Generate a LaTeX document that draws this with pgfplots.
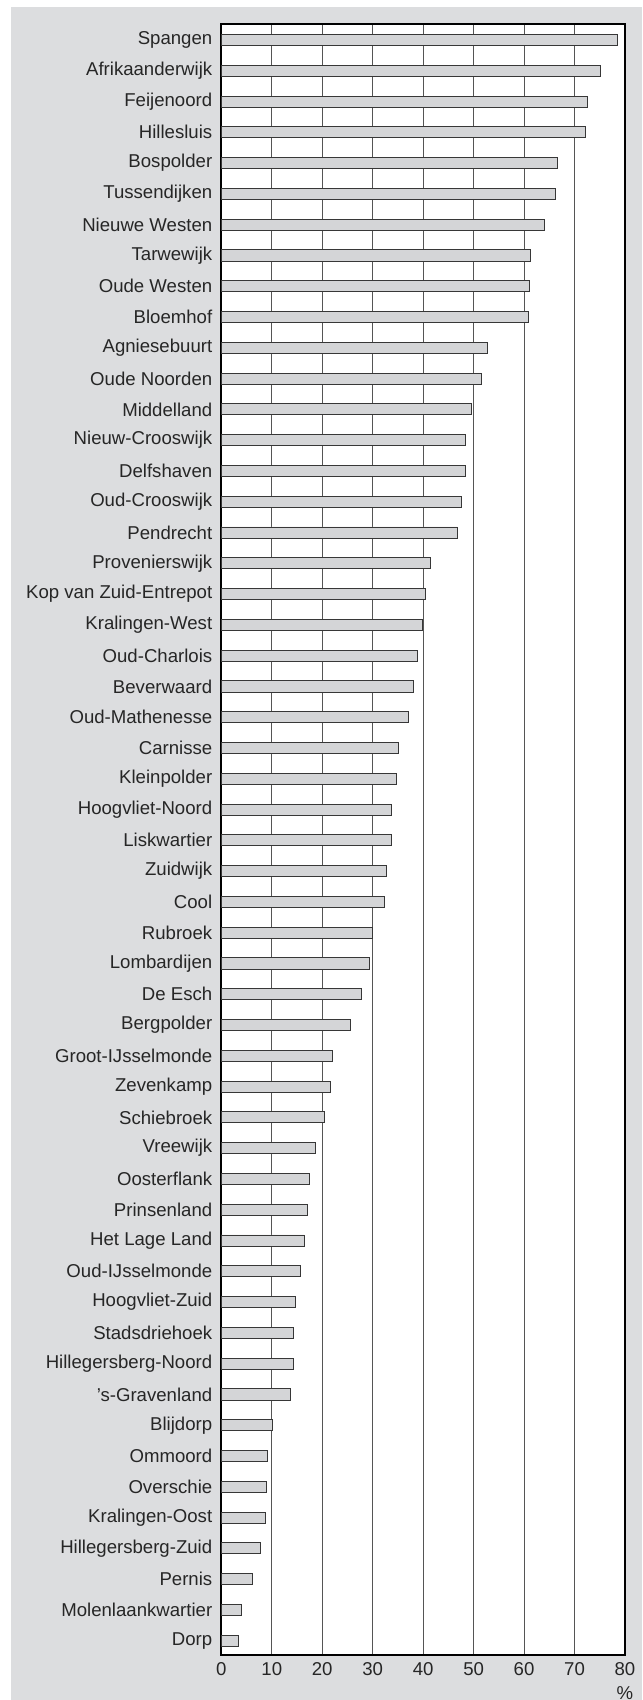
\documentclass[border=0pt]{standalone}
\usepackage{pgfplots}
\pgfplotsset{compat=1.18}
\usepackage{fontspec}
\setmainfont{Liberation Sans}
\definecolor{bgGray}{RGB}{220,221,223}
\definecolor{barFill}{RGB}{212,213,215}
\definecolor{barEdge}{RGB}{55,55,55}
\definecolor{gridCol}{RGB}{85,85,85}
\begin{document}
\begin{tikzpicture}[x=1pt,y=1pt]
\fill[white] (-110.65,-22.5) rectangle (210.35,827.5);
\fill[bgGray] (-105.15,-22.5) rectangle (210.35,824);
\begin{axis}[
  at={(0,0)}, anchor=south west,
  scale only axis, width=201.85pt, height=815.5pt,
  xmin=0, xmax=80, ymin=-0.52, ymax=52.465,
  y dir=reverse,
  xbar, bar width=0.36,
  xtick={0,10,...,80},
  ytick={0,...,52},
  yticklabels={Spangen,Afrikaanderwijk,Feijenoord,Hillesluis,Bospolder,Tussendijken,Nieuwe Westen,Tarwewijk,Oude Westen,Bloemhof,Agniesebuurt,Oude Noorden,Middelland,Nieuw-Crooswijk,Delfshaven,Oud-Crooswijk,Pendrecht,Provenierswijk,Kop van Zuid-Entrepot,Kralingen-West,Oud-Charlois,Beverwaard,Oud-Mathenesse,Carnisse,Kleinpolder,Hoogvliet-Noord,Liskwartier,Zuidwijk,Cool,Rubroek,Lombardijen,De Esch,Bergpolder,Groot-IJsselmonde,Zevenkamp,Schiebroek,Vreewijk,Oosterflank,Prinsenland,Het Lage Land,Oud-IJsselmonde,Hoogvliet-Zuid,Stadsdriehoek,Hillegersberg-Noord,'s-Gravenland,Blijdorp,Ommoord,Overschie,Kralingen-Oost,Hillegersberg-Zuid,Pernis,Molenlaankwartier,Dorp},
  major tick length=0,
  xmajorgrids,
  grid style={gridCol, line width=0.5pt},
  axis line style={black, line width=1pt},
  axis background/.style={fill=white},
  tick label style={font=\fontsize{9.3}{11}\selectfont, text=black!85},
  /pgf/number format/assume math mode=true,
  xticklabel style={yshift=-0.4pt},
  yticklabel style={xshift=-1pt},
  clip=false,
]
\addplot[fill=barFill, draw=barEdge, line width=0.45pt] coordinates {
(78.5,0) (75.1,1) (72.5,2) (72.1,3) (66.7,4) (66.2,5) (64.0,6) (61.2,7) (61.0,8) (60.8,9)
(52.7,10) (51.5,11) (49.6,12) (48.4,13) (48.3,14) (47.6,15) (46.8,16) (41.5,17) (40.5,18) (39.8,19)
(38.8,20) (38.1,21) (37.1,22) (35.2,23) (34.7,24) (33.8,25) (33.8,26) (32.8,27) (32.4,28) (30.0,29)
(29.3,30) (27.8,31) (25.6,32) (22.1,33) (21.6,34) (20.4,35) (18.6,36) (17.4,37) (17.0,38) (16.4,39)
(15.7,40) (14.7,41) (14.3,42) (14.2,43) (13.7,44) (10.2,45) (9.2,46) (8.9,47) (8.7,48) (7.7,49)
(6.2,50) (4.0,51) (3.4,52)
};
\node[font=\fontsize{9.3}{11}\selectfont, text=black!85, yshift=-19pt] at (rel axis cs:1,0) {\%};
\end{axis}
\pgfresetboundingbox
\path[use as bounding box] (-110.65,-22.5) rectangle (210.35,827.5);
\end{tikzpicture}
\end{document}
